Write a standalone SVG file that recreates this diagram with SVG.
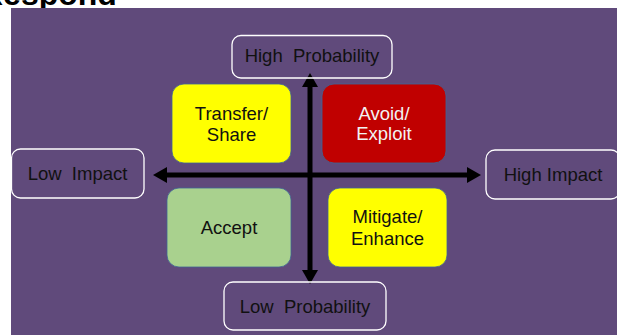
<svg xmlns="http://www.w3.org/2000/svg" width="617" height="335" viewBox="0 0 617 335">
  <style>
    .lbl { font-family: "Liberation Sans", Arial, sans-serif; font-size: 18.5px; fill: #111; text-anchor: middle; }
    .axisbox { fill: none; stroke: #ffffff; stroke-width: 1.3; }
    .quad { stroke: #3f6496; stroke-width: 0.8; }
    .axis { stroke: #000; stroke-width: 5; fill: none; }
  </style>
  <defs>
    <marker id="ah" markerUnits="userSpaceOnUse" markerWidth="16" markerHeight="16" viewBox="0 0 14 16" refX="0" refY="8" orient="auto">
      <path d="M0,0 L14,8 L0,16 Z" fill="#000"/>
    </marker>
  </defs>
  <rect x="0" y="0" width="617" height="335" fill="#ffffff"/>
  <text x="-20" y="5" font-family="'Liberation Sans', Arial, sans-serif" font-weight="bold" font-size="32" fill="#000">Respond</text>
  <rect x="11" y="8" width="606" height="327" fill="#604a7b"/>

  <g id="connectors">
    <line class="axis" x1="310" y1="176" x2="310" y2="87" marker-end="url(#ah)"/>
    <line class="axis" x1="310" y1="174" x2="310" y2="270" marker-end="url(#ah)"/>
    <line class="axis" x1="312" y1="175" x2="167" y2="175" marker-end="url(#ah)"/>
    <line class="axis" x1="308" y1="175" x2="467" y2="175" marker-end="url(#ah)"/>
  </g>

  <g id="high-probability">
    <rect class="axisbox" x="232" y="35.5" width="160" height="42.5" rx="9"/>
    <text class="lbl" x="312" y="61.5" xml:space="preserve">High  Probability</text>
  </g>
  <g id="low-probability">
    <rect class="axisbox" x="224" y="282" width="162" height="48" rx="9"/>
    <text class="lbl" x="305" y="313" xml:space="preserve">Low  Probability</text>
  </g>
  <g id="low-impact">
    <rect class="axisbox" x="11.5" y="149" width="132.5" height="49" rx="9"/>
    <text class="lbl" x="77.5" y="180" xml:space="preserve">Low  Impact</text>
  </g>
  <g id="high-impact">
    <rect class="axisbox" x="486" y="150" width="134" height="49" rx="9"/>
    <text class="lbl" x="553" y="181">High Impact</text>
  </g>

  <g id="transfer-share">
    <rect class="quad" x="172" y="84" width="119" height="79" rx="12" fill="#ffff00" stroke="#b8b040"/>
    <text class="lbl" x="231.5" y="119.5">Transfer/</text>
    <text class="lbl" x="231.5" y="141">Share</text>
  </g>
  <g id="avoid-exploit">
    <rect class="quad" x="322" y="84" width="124" height="79" rx="12" fill="#c00000"/>
    <text class="lbl" x="384" y="119.5" style="fill:#f2f2f2">Avoid/</text>
    <text class="lbl" x="384" y="139.5" style="fill:#f2f2f2">Exploit</text>
  </g>
  <g id="accept">
    <rect class="quad" x="167" y="188" width="124" height="79" rx="12" fill="#a9d18e"/>
    <text class="lbl" x="229" y="233.5">Accept</text>
  </g>
  <g id="mitigate-enhance">
    <rect class="quad" x="328" y="188" width="119" height="79" rx="12" fill="#ffff00"/>
    <text class="lbl" x="387.5" y="223">Mitigate/</text>
    <text class="lbl" x="387.5" y="244.5">Enhance</text>
  </g>
</svg>
